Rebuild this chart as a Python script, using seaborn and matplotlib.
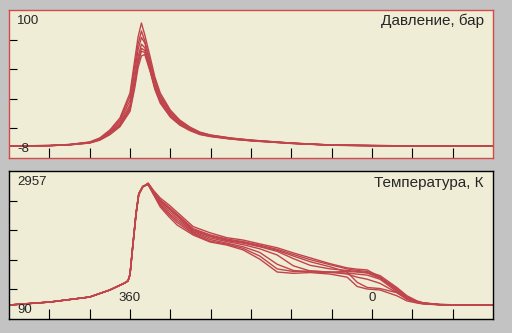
import numpy as np
import pandas as pd
import matplotlib
matplotlib.use("Agg")
import matplotlib.pyplot as plt
import seaborn as sns

# ---------------- data ----------------
p_angle = [180, 240, 270, 300, 315, 330, 345, 360, 367, 372, 377, 382, 390, 397,
           405, 420, 434, 449, 464, 480, 510, 540, 600, 660, 720, 800, 900]
p_c1 = [0.8, 1.1, 1.9, 3.7, 6.6, 12.4, 21.2, 39.4, 63.5, 80.3, 90.5, 81.8, 65.7, 51.1,
        39.4, 27.0, 19.7, 14.6, 10.9, 8.8, 6.6, 5.1, 2.9, 1.5, 1.1, 0.8, 0.8]
p_c2 = [0.8, 1.1, 1.8, 3.5, 6.2, 11.5, 19.8, 37.0, 59.0, 75.0, 84.7, 77.5, 62.5, 48.8,
        37.8, 26.0, 19.0, 14.2, 10.6, 8.6, 6.5, 5.0, 2.9, 1.5, 1.1, 0.8, 0.9]
p_c3 = [0.8, 1.1, 1.8, 3.4, 6.0, 11.0, 18.5, 34.0, 55.0, 71.0, 80.0, 76.0, 61.0, 47.5,
        36.5, 25.0, 18.3, 13.7, 10.3, 8.4, 6.3, 4.9, 2.8, 1.4, 1.1, 0.8, 0.8]
p_c4 = [0.8, 1.0, 1.7, 3.2, 5.6, 10.2, 17.0, 31.0, 50.0, 66.0, 75.0, 72.5, 58.5, 45.5,
        35.0, 24.0, 17.6, 13.2, 10.0, 8.2, 6.2, 4.8, 2.8, 1.4, 1.0, 0.8, 0.8]
p_c5 = [0.8, 1.0, 1.7, 3.1, 5.4, 9.8, 16.2, 29.0, 47.0, 63.0, 72.0, 70.5, 57.0, 44.0,
        34.0, 23.2, 17.0, 12.8, 9.7, 8.0, 6.0, 4.7, 2.7, 1.4, 1.0, 0.8, 0.8]
p_c6 = [0.8, 1.0, 1.6, 3.0, 5.2, 9.4, 15.5, 27.5, 45.0, 61.0, 70.0, 69.0, 56.0, 43.0,
        33.0, 22.5, 16.5, 12.4, 9.4, 7.8, 5.9, 4.6, 2.7, 1.3, 1.0, 0.8, 0.8]
p_c7 = [0.8, 1.0, 1.6, 2.9, 5.0, 9.0, 14.8, 26.0, 43.0, 58.0, 66.5, 67.5, 55.0, 42.0,
        32.0, 21.8, 16.0, 12.0, 9.1, 7.6, 5.8, 4.5, 2.6, 1.3, 1.0, 0.8, 0.8]
pressure = [p_c1, p_c2, p_c3, p_c4, p_c5, p_c6, p_c7]

t_angle = [180, 241, 300, 330, 352, 357, 360, 364, 369, 373, 379, 387, 395, 405, 418,
           430, 454, 479, 504, 528, 553, 579, 603, 628, 658, 683, 698, 713, 732, 757,
           772, 787, 796, 821, 860, 900]
t_c1 = [361, 419, 516, 652, 787, 826, 942, 1465, 2105, 2492, 2647, 2725, 2580, 2434, 2300,
        2160, 1880, 1760, 1665, 1620, 1545, 1470, 1370, 1275, 1160, 1080, 1055, 1040, 900, 650,
        520, 430, 400, 370, 361, 361]
t_c2 = [361, 419, 516, 652, 787, 826, 945, 1480, 2120, 2500, 2650, 2715, 2560, 2400, 2260,
        2120, 1840, 1720, 1640, 1590, 1520, 1440, 1340, 1240, 1140, 1060, 1030, 1010, 930, 700,
        540, 440, 405, 372, 361, 361]
t_c3 = [361, 419, 516, 652, 787, 828, 950, 1490, 2130, 2505, 2655, 2710, 2540, 2370, 2220,
        2080, 1800, 1690, 1610, 1560, 1490, 1400, 1260, 1130, 1060, 1030, 1010, 990, 900, 680,
        520, 430, 400, 370, 361, 361]
t_c4 = [361, 419, 516, 652, 787, 828, 950, 1490, 2130, 2510, 2655, 2705, 2530, 2340, 2180,
        2040, 1780, 1660, 1590, 1530, 1450, 1330, 1120, 1020, 1000, 1010, 1000, 980, 880, 650,
        500, 420, 395, 368, 361, 361]
t_c5 = [361, 419, 516, 652, 787, 830, 955, 1495, 2140, 2515, 2658, 2700, 2520, 2310, 2140,
        2000, 1760, 1630, 1560, 1490, 1380, 1150, 1030, 1000, 990, 980, 960, 940, 860, 620,
        480, 410, 390, 366, 361, 361]
t_c6 = [361, 419, 516, 652, 787, 830, 955, 1495, 2145, 2515, 2658, 2695, 2510, 2290, 2110,
        1960, 1740, 1600, 1540, 1460, 1310, 1060, 1010, 1020, 1000, 960, 900, 860, 780, 600,
        470, 410, 388, 365, 361, 361]
t_c7 = [361, 419, 516, 652, 787, 828, 950, 1490, 2130, 2505, 2652, 2710, 2550, 2380, 2230,
        2100, 1820, 1700, 1620, 1575, 1500, 1420, 1310, 1200, 1100, 1000, 800, 700, 680, 600,
        480, 415, 395, 368, 361, 361]
t_c8 = [361, 419, 516, 652, 787, 830, 960, 1500, 2150, 2520, 2660, 2690, 2500, 2260, 2070,
        1911, 1717, 1582, 1523, 1430, 1250, 1000, 975, 990, 960, 900, 720, 670, 652, 540,
        440, 400, 380, 365, 361, 361]
temperature = [t_c1, t_c2, t_c3, t_c4, t_c5, t_c6, t_c7, t_c8]

x_min, x_max = 180, 900
x_ticks = [240, 300, 360, 420, 480, 540, 600, 660, 720, 780, 840]
p_min, p_max = -8, 100
t_min, t_max = 90, 2957
p_title = "Давление, бар"
t_title = "Температура, К"
x_labels = {360: "360", 720: "0"}

# ---------------- frames ----------------
rows = []
for i, ys in enumerate(pressure):
    for a, v in zip(p_angle, ys):
        rows.append(("p", i, a, v))
for i, ys in enumerate(temperature):
    for a, v in zip(t_angle, ys):
        rows.append(("t", i, a, v))
df = pd.DataFrame(rows, columns=["kind", "cycle", "angle", "value"])

# ---------------- plot ----------------
sns.set_style("white")
plt.rcParams["font.family"] = ["Liberation Sans", "DejaVu Sans"]

W, H = 512, 333
fig = plt.figure(figsize=(W / 100, H / 100), dpi=100)
fig.patch.set_facecolor("#c3c3c3")

def ax_rect(x0, y0, x1, y1):
    return [x0 / W, 1 - y1 / H, (x1 - x0) / W, (y1 - y0) / H]

ax1 = fig.add_axes(ax_rect(9, 10, 493, 158))
ax2 = fig.add_axes(ax_rect(9, 171, 493, 319))

line_col = "#c0444b"
bg = "#efedd6"

for ax, kind, lo, hi, border in [(ax1, "p", p_min, p_max, "#d24a4a"),
                                 (ax2, "t", t_min, t_max, "#000000")]:
    sub = df[df.kind == kind]
    n = sub.cycle.nunique()
    sns.lineplot(data=sub, x="angle", y="value", hue="cycle", units="cycle",
                 estimator=None, palette=[line_col] * n, legend=False,
                 linewidth=1.0, ax=ax)
    ax.set_facecolor(bg)
    ax.set_xlim(x_min, x_max)
    ax.set_ylim(lo, hi)
    ax.set_xticks(x_ticks)
    step = (hi - lo) / 5
    ax.set_yticks([lo + step * k for k in range(1, 5)])
    ax.tick_params(axis="x", direction="in", length=7.2, width=0.8, color="black",
                   labelbottom=False, bottom=True)
    ax.tick_params(axis="y", direction="in", length=5.8, width=0.8, color="black",
                   labelleft=False, left=True)
    ax.set_xlabel("")
    ax.set_ylabel("")
    for s in ax.spines.values():
        s.set_color(border)
        s.set_linewidth(1.0)
        s.set_visible(True)

fs = 9.5
# pressure panel texts
ax1.text(8 / 484, 1 - 5 / 148, "100", transform=ax1.transAxes, ha="left", va="top", fontsize=fs)
ax1.text(8 / 484, 3 / 148, "-8", transform=ax1.transAxes, ha="left", va="bottom", fontsize=fs)
ax1.text(1 - 9 / 484, 1 - 4 / 148, p_title, transform=ax1.transAxes, ha="right", va="top", fontsize=11)
# temperature panel texts
ax2.text(8 / 484, 1 - 5 / 148, "2957", transform=ax2.transAxes, ha="left", va="top", fontsize=fs)
ax2.text(8 / 484, 3 / 148, "90", transform=ax2.transAxes, ha="left", va="bottom", fontsize=fs)
ax2.text(1 - 9 / 484, 1 - 5 / 148, t_title, transform=ax2.transAxes, ha="right", va="top", fontsize=11)
for xv, lab in x_labels.items():
    ax2.text(xv, 0.145, lab, transform=ax2.get_xaxis_transform(), ha="center", va="center", fontsize=fs)

fig.savefig("out.png", dpi=100, facecolor=fig.get_facecolor())
